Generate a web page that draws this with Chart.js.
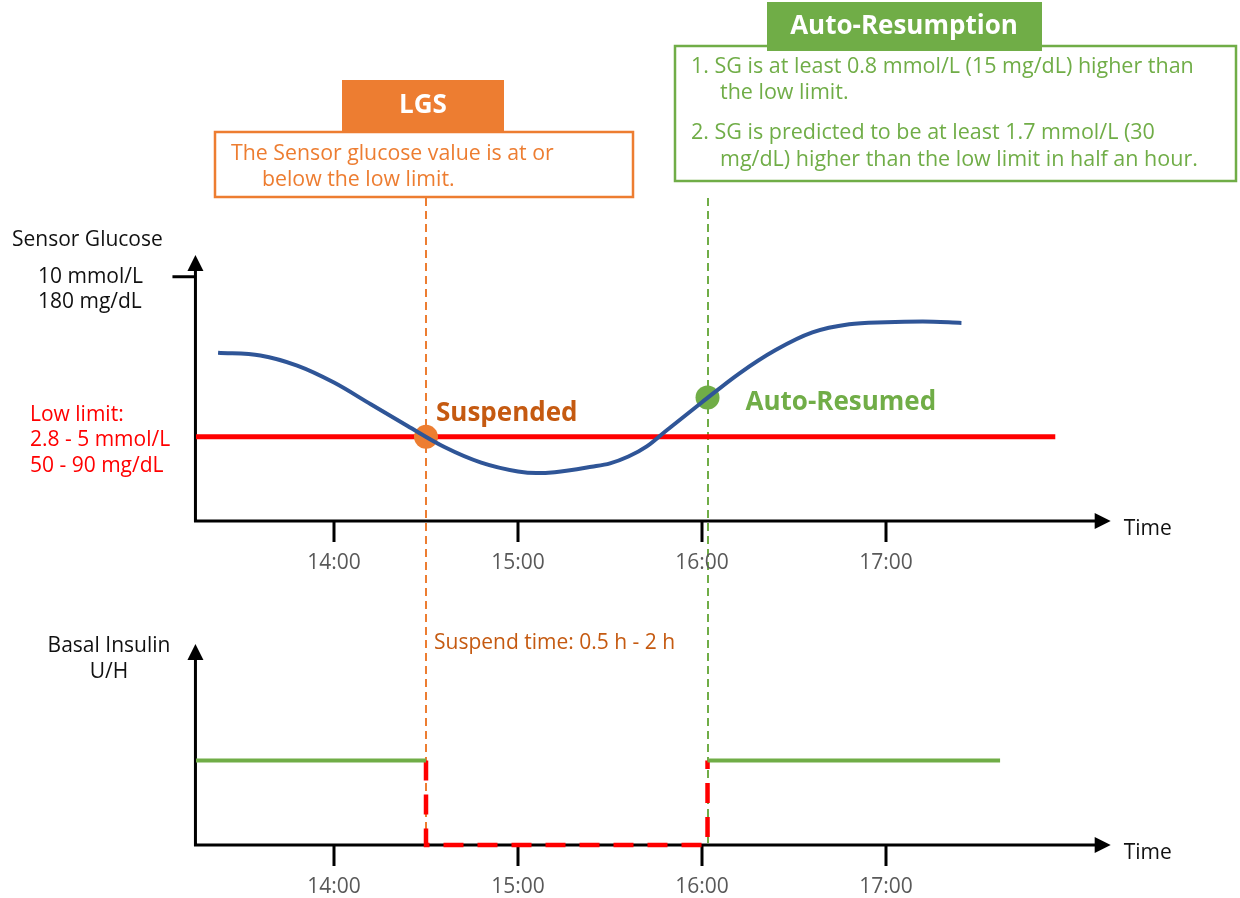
<!DOCTYPE html>
<html>
<head>
<meta charset="utf-8">
<script src="https://cdn.jsdelivr.net/npm/chart.js@4/dist/chart.umd.min.js"></script>
<style>
  html, body { margin: 0; padding: 0; background: #ffffff; }
  #wrap { position: relative; width: 1240px; height: 898px; }
  canvas { display: block; }
</style>
</head>
<body>
<div id="wrap"><canvas id="c" width="1240" height="898"></canvas></div>
<script>
// ---------------- data ----------------
// Sensor glucose curve (time in hours, SG in mg/dL, schematic)
const sgTimes  = [13.37, 13.6, 13.8, 14.0, 14.2, 14.4, 14.6, 14.8, 15.0, 15.1, 15.2, 15.4,
                  15.5, 15.6, 15.7, 15.8, 16.0, 16.2, 16.4, 16.6, 16.8, 17.0, 17.2, 17.41];
const sgValues = [124, 122, 114.5, 102, 86, 70, 54.5, 43, 36.5, 35.3, 36, 40,
                  42.5, 47.5, 55, 66, 87.5, 108.5, 126, 139, 145, 146.5, 147, 146];

// Low limit line
const lowLimitValue = 62;
const lowLimitSpan  = [13.25, 17.92];

// Events
const suspendTime = 14.5;
const suspendSG   = 62;
const resumeTime  = 16.03;
const resumeSG    = 91;

// Basal insulin (U/H, schematic)
const basalRate      = 1;
const basalBefore    = [13.25, 14.5];
const basalAfter     = [16.03, 17.62];
const suspendedRate  = 0;

// Axes
const tickHours  = [14, 15, 16, 17];
const tickLabels = ['14:00', '15:00', '16:00', '17:00'];
const sgTopTick  = 180;
const sgTopTickLabels = ['10 mmol/L', '180 mg/dL'];
const axisHourStart = 13.247;
const axisHourEnd   = 18.221;
const sgAxisTop     = 196;
const basalAxisTop  = 2.38;
const eventLineTopSG = 238;

// Texts
const sgTitle = 'Sensor Glucose';
const lowLimitLabels = ['Low limit:', '2.8 - 5 mmol/L', '50 - 90 mg/dL'];
const basalTitle = ['Basal Insulin', 'U/H'];
const timeLabel = 'Time';
const suspendedLabel = 'Suspended';
const resumedLabel = 'Auto-Resumed';
const suspendTimeLabel = 'Suspend time: 0.5 h - 2 h';
const lgsTitle = 'LGS';
const lgsText = ['The Sensor glucose value is at or', 'below the low limit.'];
const arTitle = 'Auto-Resumption';
const arText = ['1. SG is at least 0.8 mmol/L (15 mg/dL) higher than', 'the low limit.',
                '2. SG is predicted to be at least 1.7 mmol/L (30', 'mg/dL) higher than the low limit in half an hour.'];

// ---------------- styles ----------------
const BLUE = '#2f5597', RED = '#ff0000', ORANGE = '#ed7d31', DORANGE = '#c55a11', GREEN = '#70ad47';
const FONT = '"Open Sans", "Noto Sans", sans-serif';

const decor = {
  id: 'decor',
  beforeDatasetsDraw(chart) {
    const ctx = chart.ctx, s = chart.scales;
    const X = v => s.x.getPixelForValue(v);
    const G = v => s.yG.getPixelForValue(v);
    const B = v => s.yB.getPixelForValue(v);

    // event vertical dashed lines
    ctx.save();
    ctx.lineWidth = 2;
    ctx.setLineDash([8, 5]);
    [[suspendTime, ORANGE], [resumeTime, GREEN]].forEach(([t, col]) => {
      ctx.strokeStyle = col;
      ctx.beginPath();
      ctx.moveTo(Math.round(X(t)), G(eventLineTopSG));
      ctx.lineTo(Math.round(X(t)), B(0));
      ctx.stroke();
    });
    ctx.restore();

    // axes
    const drawAxes = (Y, topVal) => {
      const x0 = X(axisHourStart), y0 = Y(0);
      const xe = X(axisHourEnd), ye = Y(topVal);
      ctx.save();
      ctx.strokeStyle = '#000'; ctx.fillStyle = '#000';
      ctx.lineWidth = 3; ctx.lineJoin = 'miter';
      ctx.beginPath();
      ctx.moveTo(x0, ye + 14);
      ctx.lineTo(x0, y0);
      ctx.lineTo(xe - 14, y0);
      ctx.stroke();
      // arrows
      ctx.beginPath();
      ctx.moveTo(xe, y0); ctx.lineTo(xe - 16, y0 - 8); ctx.lineTo(xe - 16, y0 + 8); ctx.closePath(); ctx.fill();
      ctx.beginPath();
      ctx.moveTo(x0, ye); ctx.lineTo(x0 - 8, ye + 16); ctx.lineTo(x0 + 8, ye + 16); ctx.closePath(); ctx.fill();
      // ticks
      ctx.font = '21px ' + FONT;
      ctx.textAlign = 'center'; ctx.textBaseline = 'middle';
      tickHours.forEach((h, i) => {
        ctx.beginPath();
        ctx.moveTo(X(h), y0); ctx.lineTo(X(h), y0 + 21);
        ctx.stroke();
        ctx.fillStyle = '#595959';
        ctx.fillText(tickLabels[i], X(h), y0 + 42);
      });
      ctx.fillStyle = '#111';
      ctx.textAlign = 'left';
      ctx.fillText(timeLabel, xe + 13, y0 + 8);
      ctx.restore();
    };
    drawAxes(G, sgAxisTop);
    drawAxes(B, basalAxisTop);

    // top y tick
    ctx.save();
    ctx.strokeStyle = '#000'; ctx.lineWidth = 3;
    ctx.beginPath();
    ctx.moveTo(X(axisHourStart) - 23, G(sgTopTick));
    ctx.lineTo(X(axisHourStart), G(sgTopTick));
    ctx.stroke();
    ctx.restore();
  },
  afterDatasetsDraw(chart) {
    const ctx = chart.ctx, s = chart.scales;
    const X = v => s.x.getPixelForValue(v);
    const G = v => s.yG.getPixelForValue(v);
    ctx.save();
    ctx.textBaseline = 'middle';
    ctx.textAlign = 'left';

    // Axis titles
    ctx.font = '21px ' + FONT;
    ctx.fillStyle = '#111';
    ctx.fillText(sgTitle, 12, 240);
    ctx.fillText(sgTopTickLabels[0], 38, G(sgTopTick));
    ctx.fillText(sgTopTickLabels[1], 38, G(sgTopTick) + 25);
    ctx.textAlign = 'center';
    ctx.fillText(basalTitle[0], 109, 646);
    ctx.fillText(basalTitle[1], 109, 672);

    // Low limit labels
    ctx.textAlign = 'left';
    ctx.fillStyle = RED;
    ctx.fillText(lowLimitLabels[0], 30, G(lowLimitValue) - 22);
    ctx.fillText(lowLimitLabels[1], 30, G(lowLimitValue) + 3);
    ctx.fillText(lowLimitLabels[2], 30, G(lowLimitValue) + 29);

    // Event labels
    ctx.font = 'bold 26px ' + FONT;
    ctx.fillStyle = DORANGE;
    ctx.fillText(suspendedLabel, X(suspendTime) + 10, G(suspendSG) - 23);
    ctx.fillStyle = GREEN;
    ctx.fillText(resumedLabel, X(resumeTime) + 38, G(resumeSG) + 5);

    ctx.font = '21px ' + FONT;
    ctx.fillStyle = DORANGE;
    ctx.fillText(suspendTimeLabel, X(suspendTime) + 8, 643);

    // LGS box
    ctx.lineWidth = 2.5;
    ctx.strokeStyle = ORANGE;
    ctx.fillStyle = '#fff';
    ctx.fillRect(215, 132, 418, 65);
    ctx.strokeRect(215, 132, 418, 65);
    ctx.fillStyle = ORANGE;
    ctx.fillRect(342, 80, 162, 52);
    ctx.fillStyle = '#fff';
    ctx.font = 'bold 26px ' + FONT;
    ctx.textAlign = 'center';
    ctx.fillText(lgsTitle, 423, 106);
    ctx.textAlign = 'left';
    ctx.font = '21.3px ' + FONT;
    ctx.fillStyle = ORANGE;
    ctx.fillText(lgsText[0], 231, 154);
    ctx.fillText(lgsText[1], 262, 180);

    // Auto-Resumption box
    ctx.strokeStyle = GREEN;
    ctx.strokeRect(675, 46, 561, 135);
    ctx.fillStyle = GREEN;
    ctx.fillRect(767, 2, 275, 49);
    ctx.fillStyle = '#fff';
    ctx.font = 'bold 26px ' + FONT;
    ctx.textAlign = 'center';
    ctx.fillText(arTitle, 904, 27);
    ctx.textAlign = 'left';
    ctx.font = '21.5px ' + FONT;
    ctx.fillStyle = GREEN;
    ctx.fillText(arText[0], 691, 67);
    ctx.fillText(arText[1], 720, 93);
    ctx.fillText(arText[2], 691, 133);
    ctx.fillText(arText[3], 720, 160);
    ctx.restore();
  }
};

const sgData = sgTimes.map((t, i) => ({ x: t, y: sgValues[i] }));
const lowLimitData = lowLimitSpan.map(t => ({ x: t, y: lowLimitValue }));
const eventData = [{ x: suspendTime, y: suspendSG }, { x: resumeTime, y: resumeSG }];
const basalData = [
  { x: basalBefore[0], y: basalRate }, { x: basalBefore[1], y: basalRate },
  { x: (basalBefore[1] + basalAfter[0]) / 2, y: null },
  { x: basalAfter[0], y: basalRate }, { x: basalAfter[1], y: basalRate }
];
const suspendData = [
  { x: suspendTime, y: basalRate }, { x: suspendTime, y: suspendedRate },
  { x: resumeTime, y: suspendedRate }, { x: resumeTime, y: basalRate }
];

new Chart(document.getElementById('c'), {
  type: 'line',
  data: {
    datasets: [
      { label: 'Sensor glucose', data: sgData, yAxisID: 'yG', borderColor: BLUE, borderWidth: 4,
        pointRadius: 0, cubicInterpolationMode: 'monotone', order: 1 },
      { label: 'Events', data: eventData, yAxisID: 'yG', showLine: false, pointRadius: 12,
        pointBackgroundColor: [ORANGE, GREEN], pointBorderWidth: 0, order: 2 },
      { label: 'Low limit', data: lowLimitData, yAxisID: 'yG', borderColor: RED, borderWidth: 5,
        pointRadius: 0, order: 3 },
      { label: 'Basal', data: basalData, yAxisID: 'yB', borderColor: GREEN, borderWidth: 4,
        pointRadius: 0, spanGaps: false, order: 4 },
      { label: 'Suspended', data: suspendData, yAxisID: 'yB', borderColor: RED, borderWidth: 4.5,
        borderDash: [20, 14], borderCapStyle: 'butt', pointRadius: 0, tension: 0, order: 5 }
    ]
  },
  options: {
    responsive: false,
    animation: false,
    devicePixelRatio: 1,
    events: [],
    layout: { padding: 0, autoPadding: false },
    plugins: { legend: { display: false }, tooltip: { enabled: false }, title: { display: false } },
    scales: {
      x:  { type: 'linear', display: false, min: 14 - 334 / 184, max: 14 + 906 / 184 },
      yG: { type: 'linear', display: false, min: -(898 - 521) / 1.357, max: 521 / 1.357 },
      yB: { type: 'linear', display: false, min: -(898 - 845) / 84.5, max: 845 / 84.5 }
    }
  },
  plugins: [decor]
});
</script>
</body>
</html>
